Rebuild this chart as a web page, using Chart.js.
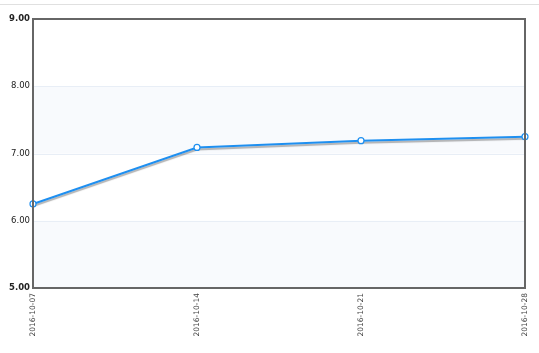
<!DOCTYPE html>
<html>
<head>
<meta charset="utf-8">
<script src="https://cdn.jsdelivr.net/npm/chart.js@4"></script>
<style>
  html, body { margin: 0; padding: 0; background: #fff; }
  #wrap { position: relative; width: 539px; height: 353px; }
  #topline { position: absolute; left: 0; top: 4px; width: 539px; height: 0; border-top: 1px solid #e0e0e0; }
  canvas { position: absolute; left: 0; top: 0; }
</style>
</head>
<body>
<div id="wrap">
  <div id="topline"></div>
  <canvas id="grafica" width="539" height="353"></canvas>
</div>
<script>
// datos de la serie
const fechas = ['2016-10-07', '2016-10-14', '2016-10-21', '2016-10-28'];
const valores = [6.25, 7.09, 7.19, 7.25];
const yTicks = [5, 6, 7, 8, 9];

// franjas alternas, sombra de la linea y marco del area
const fondoPlugin = {
    id: 'fondo',
    beforeDatasetsDraw(chart) {
        const { ctx, chartArea, scales } = chart;
        ctx.save();
        for (let i = 0; i < yTicks.length - 1; i++) {
            if ((yTicks.length - 2 - i) % 2 === 1) {
                const y1 = scales.y.getPixelForValue(yTicks[i + 1]);
                const y0 = scales.y.getPixelForValue(yTicks[i]);
                ctx.fillStyle = '#f8fafd';
                ctx.fillRect(chartArea.left, y1, chartArea.right - chartArea.left, y0 - y1);
            }
        }
        ctx.strokeStyle = '#e8eef6';
        ctx.lineWidth = 1;
        yTicks.slice(1, -1).forEach(v => {
            const y = Math.round(scales.y.getPixelForValue(v)) + 0.5;
            ctx.beginPath();
            ctx.moveTo(chartArea.left, y);
            ctx.lineTo(chartArea.right, y);
            ctx.stroke();
        });
        ctx.restore();
    },
    beforeDatasetDraw(chart, args) {
        const ctx = chart.ctx;
        const meta = args.meta;
        ctx.save();
        ctx.shadowColor = 'rgba(0,0,0,0.3)';
        ctx.shadowOffsetX = 0;
        ctx.shadowOffsetY = 2;
        ctx.shadowBlur = 1;
        meta.dataset.draw(ctx, chart.chartArea);
        ctx.restore();
        meta.data.forEach(p => p.draw(ctx, chart.chartArea));
        return false;
    },
    afterDraw(chart) {
        const { ctx, chartArea } = chart;
        ctx.save();
        ctx.strokeStyle = '#666';
        ctx.lineWidth = 2;
        ctx.strokeRect(chartArea.left, chartArea.top, chartArea.right - chartArea.left, chartArea.bottom - chartArea.top);
        ctx.restore();
    }
};

const ctx = document.getElementById('grafica').getContext('2d');
new Chart(ctx, {
    type: 'line',
    data: {
        labels: fechas,
        datasets: [{
            data: valores,
            borderColor: '#1e8ff0',
            borderWidth: 2,
            tension: 0,
            pointRadius: 3,
            pointBorderWidth: 1.2,
            pointBackgroundColor: '#fff',
            pointBorderColor: '#1e8ff0',
            fill: false
        }]
    },
    options: {
        responsive: false,
        animation: false,
        layout: { padding: { left: 0, right: 12, top: 19, bottom: 0 } },
        plugins: {
            legend: { display: false },
            tooltip: { enabled: false }
        },
        scales: {
            x: {
                offset: false,
                grid: { display: false, drawTicks: false },
                border: { display: false },
                afterFit: s => { s.height = 65; },
                ticks: {
                    minRotation: 90,
                    maxRotation: 90,
                    autoSkip: false,
                    padding: 5,
                    color: '#444',
                    font: { family: 'DejaVu Sans', size: 7.5 }
                }
            },
            y: {
                min: 5,
                max: 9,
                grid: { display: false, drawTicks: false },
                border: { display: false },
                afterFit: s => { s.width = 33; },
                ticks: {
                    stepSize: 1,
                    padding: 3,
                    color: '#222',
                    callback: v => v.toFixed(2),
                    font: c => ({
                        family: 'DejaVu Sans',
                        size: 8.5,
                        weight: (c.tick && (c.tick.value === 5 || c.tick.value === 9)) ? 'bold' : 'normal'
                    })
                }
            }
        }
    },
    plugins: [fondoPlugin]
});
</script>
</body>
</html>
